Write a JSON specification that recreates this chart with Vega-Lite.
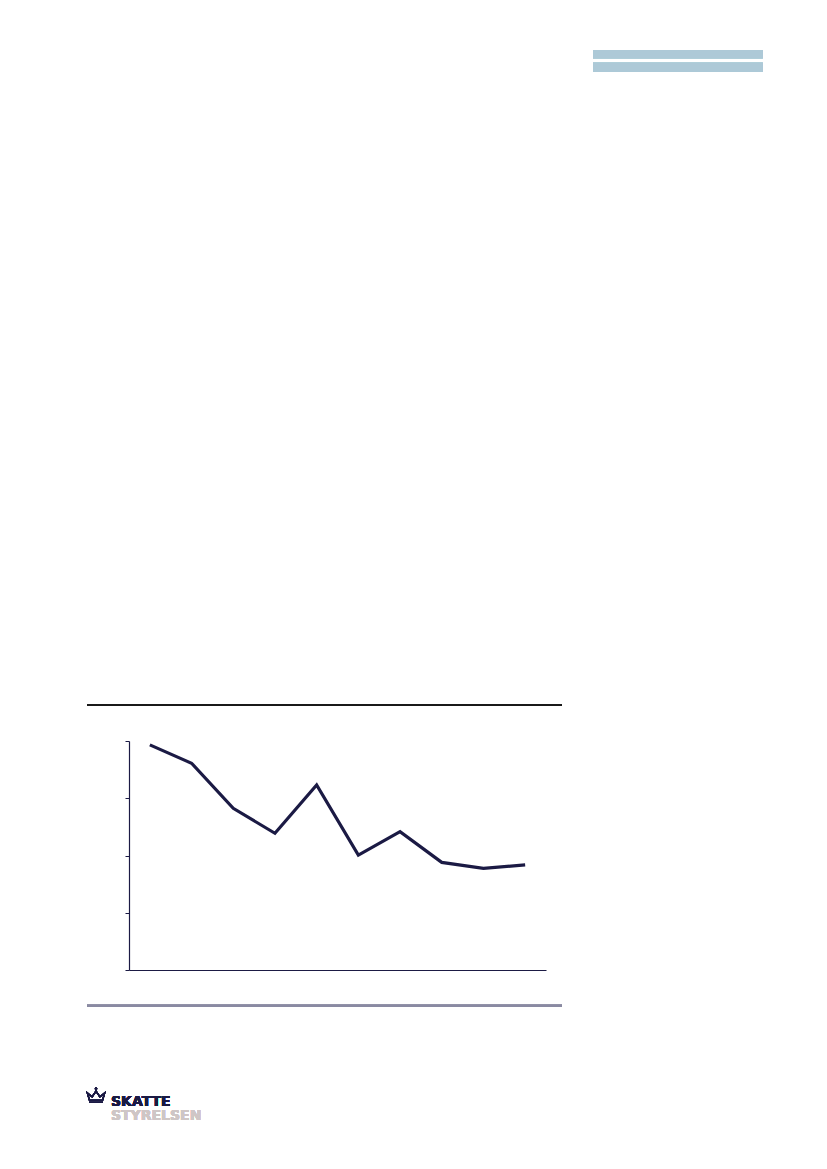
{
  "$schema": "https://vega.github.io/schema/vega-lite/v6.json",
  "width": 417,
  "height": 229,
  "autosize": {"type": "none"},
  "padding": {"left": 129, "top": 741, "right": 281, "bottom": 199},
  "background": "white",
  "config": {"view": {"stroke": null}},
  "data": {
    "values": [
      {"punkt": 1, "værdi": 98.3},
      {"punkt": 2, "værdi": 90.3},
      {"punkt": 3, "værdi": 70.6},
      {"punkt": 4, "værdi": 59.7},
      {"punkt": 5, "værdi": 80.8},
      {"punkt": 6, "værdi": 50.2},
      {"punkt": 7, "værdi": 60.4},
      {"punkt": 8, "værdi": 47.0},
      {"punkt": 9, "værdi": 44.4},
      {"punkt": 10, "værdi": 45.9}
    ]
  },
  "layer": [
    {
      "mark": {"type": "line", "color": "#1b1a44", "strokeWidth": 3.2, "strokeJoin": "miter"},
      "encoding": {
        "x": {
          "field": "punkt", "type": "quantitative",
          "scale": {"domain": [0.5, 10.5], "nice": false, "zero": false},
          "axis": {"title": null, "labels": false, "ticks": false, "grid": false, "domainColor": "#1b1a44", "domainWidth": 1.2}
        },
        "y": {
          "field": "værdi", "type": "quantitative",
          "scale": {"domain": [0, 100], "nice": false},
          "axis": {"title": null, "labels": false, "grid": false, "values": [0, 25, 50, 75, 100], "tickSize": 4, "tickColor": "#1b1a44", "domainColor": "#1b1a44", "domainWidth": 1.2}
        }
      }
    },
    {
      "mark": {"type": "rule", "color": "#1a1a1a", "strokeWidth": 1.2},
      "encoding": {"x": {"datum": -0.507}, "x2": {"datum": 10.88}, "y": {"datum": 115.7}}
    },
    {
      "mark": {"type": "rule", "color": "#8a8aa2", "strokeWidth": 2},
      "encoding": {"x": {"datum": -0.507}, "x2": {"datum": 10.88}, "y": {"datum": -15.6}}
    },
    {
      "mark": {"type": "rect", "color": "#adc9d7"},
      "encoding": {"x": {"datum": 11.63}, "x2": {"datum": 15.7}, "y": {"datum": 401.7}, "y2": {"datum": 398.1}}
    },
    {
      "mark": {"type": "rect", "color": "#adc9d7"},
      "encoding": {"x": {"datum": 11.63}, "x2": {"datum": 15.7}, "y": {"datum": 396.2}, "y2": {"datum": 392.3}}
    },
    {
      "mark": {
        "type": "point",
        "shape": "M -0.8 0.75 L 0.8 0.75 M -0.75 0.5 L 0.75 0.5 L 1 -0.35 Q 0.7 -0.1 0.45 0.1 Q 0.2 -0.25 0 -0.55 Q -0.2 -0.25 -0.45 0.1 Q -0.7 -0.1 -1 -0.35 Z M 0 -0.65 L 0 -1 M -0.13 -0.84 L 0.13 -0.84",
        "filled": false,
        "color": "#1b1a44",
        "strokeWidth": 1.3,
        "size": 300,
        "opacity": 1
      },
      "encoding": {"x": {"datum": -0.291}, "y": {"datum": -55.0}}
    },
    {
      "mark": {"type": "text", "text": "SKATTE", "font": "DejaVu Sans", "fontSize": 14, "fontWeight": "bold", "color": "#1b1a44", "align": "left", "baseline": "alphabetic"},
      "encoding": {"x": {"datum": 0.068}, "y": {"datum": -59.4}}
    },
    {
      "mark": {"type": "text", "text": "STYRELSEN", "font": "DejaVu Sans", "fontSize": 14, "fontWeight": "bold", "color": "#cfc6c6", "align": "left", "baseline": "alphabetic"},
      "encoding": {"x": {"datum": 0.068}, "y": {"datum": -65.5}}
    }
  ]
}
